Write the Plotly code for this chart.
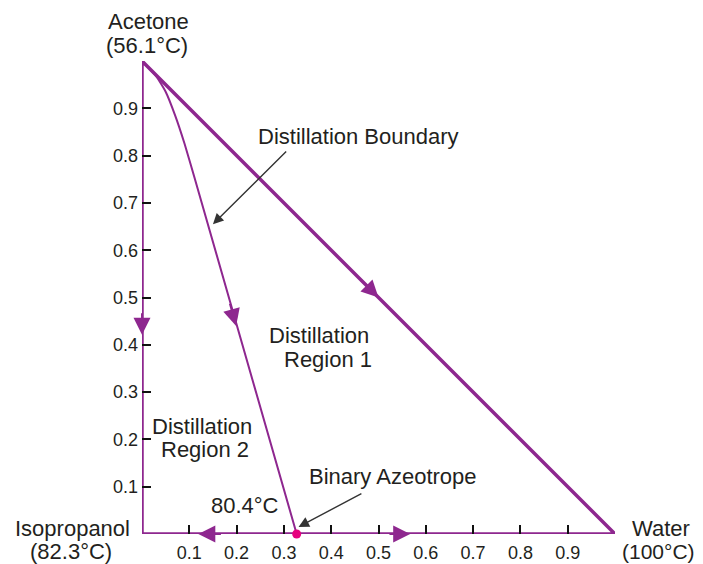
import plotly.graph_objects as go

# ---- data (mole fractions: x = water, y = acetone) ----
triangle_x = [0.0, 0.0, 1.0, 0.0]
triangle_y = [1.0, 0.0, 0.0, 1.0]

boundary_x = [0.0, 0.03, 0.05, 0.07, 0.09, 0.11, 0.327]
boundary_y = [1.0, 0.968, 0.935, 0.885, 0.825, 0.757, 0.0]

azeotrope_x = [0.327]
azeotrope_y = [0.0]

tick_vals = [0.1, 0.2, 0.3, 0.4, 0.5, 0.6, 0.7, 0.8, 0.9]
tick_text = ["0.1", "0.2", "0.3", "0.4", "0.5", "0.6", "0.7", "0.8", "0.9"]

# direction arrows on curves: (tip_x, tip_y, tail_x, tail_y)
flow_arrows = [
    (0.0, 0.421, 0.0, 0.47),
    (0.5, 0.5, 0.46, 0.54),
    (0.199, 0.440, 0.185, 0.49),
    (0.119, 0.0, 0.17, 0.0),
    (0.567, 0.0, 0.52, 0.0),
]

PURPLE = "#8e278f"
TEXT = "#231f20"
FONT = "Liberation Sans, Arial, Helvetica, sans-serif"

# page offset (browser body margin) compensation
OFF = 8
PLOT_L, PLOT_T, PLOT_W, PLOT_H = 142, 61, 473, 473

fig = go.Figure()
fig.add_trace(go.Scatter(x=triangle_x, y=triangle_y, mode="lines",
                         line=dict(color=PURPLE, width=3.5), cliponaxis=False,
                         hoverinfo="skip", showlegend=False))
fig.add_trace(go.Scatter(x=boundary_x, y=boundary_y, mode="lines",
                         line=dict(color=PURPLE, width=2, shape="spline", smoothing=0.4),
                         cliponaxis=False, hoverinfo="skip", showlegend=False))
fig.add_trace(go.Scatter(x=azeotrope_x, y=azeotrope_y, mode="markers",
                         marker=dict(color="#e6007e", size=9), cliponaxis=False,
                         hoverinfo="skip", showlegend=False))

annotations = []
for tx, ty, ax, ay in flow_arrows:
    annotations.append(dict(x=tx, y=ty, ax=ax, ay=ay, xref="x", yref="y",
                            axref="x", ayref="y", text="", showarrow=True,
                            arrowhead=2, arrowsize=1.7, arrowwidth=2,
                            arrowcolor=PURPLE))

# black pointer arrows
annotations.append(dict(x=0.150, y=0.655, ax=0.308, ay=0.812, xref="x", yref="y",
                        axref="x", ayref="y", text="", showarrow=True,
                        arrowhead=2, arrowsize=1.5, arrowwidth=1.4, arrowcolor="#333333"))
annotations.append(dict(x=0.331, y=0.015, ax=0.467, ay=0.087, xref="x", yref="y",
                        axref="x", ayref="y", text="", showarrow=True,
                        arrowhead=2, arrowsize=1.5, arrowwidth=1.4, arrowcolor="#333333"))


def px2paper(px, py):
    return (px - PLOT_L) / PLOT_W, (PLOT_T + PLOT_H - py) / PLOT_H


labels = [
    ("Acetone", 148, 22, 22),
    ("(56.1°C)", 147, 45, 22),
    ("Isopropanol", 72, 528, 22),
    ("(82.3°C)", 71, 551, 22),
    ("Water", 661, 528, 22),
    ("(100°C)", 658, 551, 21),
    ("Distillation Boundary", 358, 136, 22),
    ("Distillation", 319, 336, 22),
    ("Region 1", 328, 359, 22),
    ("Distillation", 202, 426, 22),
    ("Region 2", 205, 449, 22),
    ("80.4°C", 245, 505, 22),
    ("Binary Azeotrope", 393, 476, 22),
]
for t, px, py, fs in labels:
    x, y = px2paper(px, py)
    annotations.append(dict(x=x, y=y, xref="paper", yref="paper", text=t,
                            showarrow=False, xanchor="center", yanchor="middle",
                            font=dict(family=FONT, size=fs, color=TEXT)))

axis_common = dict(range=[0, 1], showgrid=False, zeroline=False, showline=False,
                   ticks="inside", ticklen=9, tickwidth=2, tickcolor="#111111",
                   tickvals=tick_vals, ticktext=tick_text, automargin=False,
                   tickfont=dict(family=FONT, size=18, color=TEXT), fixedrange=True)

fig.update_layout(
    width=703 - OFF, height=564 - OFF,
    margin=dict(l=PLOT_L - OFF, r=703 - PLOT_L - PLOT_W, t=PLOT_T - OFF,
                b=564 - PLOT_T - PLOT_H, pad=0),
    paper_bgcolor="white", plot_bgcolor="white",
    template="none",
    xaxis=dict(**axis_common, ticklabelstandoff=6),
    yaxis=dict(**axis_common, ticklabelstandoff=3),
    annotations=annotations,
    showlegend=False,
)

fig.write_html("out.html")
